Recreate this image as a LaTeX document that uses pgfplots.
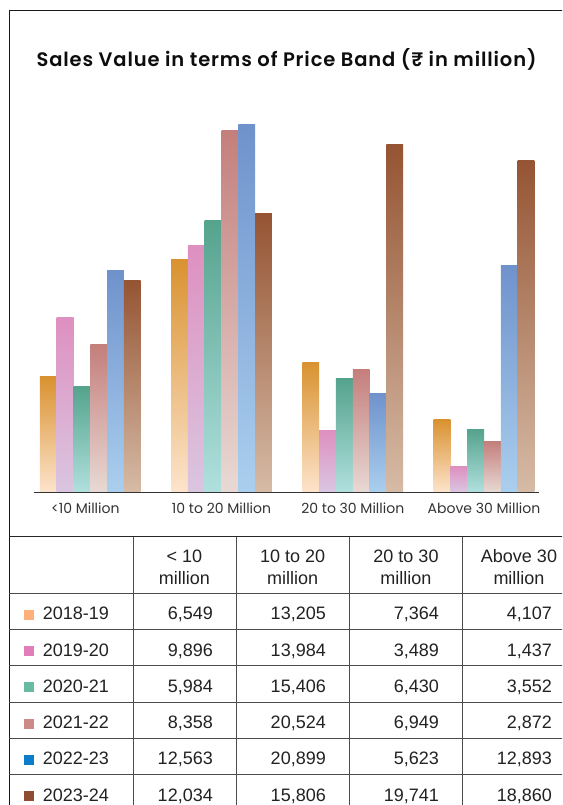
\documentclass[border=0pt]{standalone}
\usepackage{pgfplots}
\pgfplotsset{compat=1.18}
\usepackage{pgfplotstable}
\usepackage{fontspec}
\setmainfont{Liberation Sans}
\newfontfamily\titlefont{Poppins}[LetterSpace=4.5, BoldFont={Poppins SemiBold}]
\newfontfamily\labelfont{Poppins}

% bar gradients: top colour / bottom colour
\definecolor{t1}{HTML}{D99230}\definecolor{b1}{HTML}{FDE4CC}
\definecolor{t2}{HTML}{DE90C0}\definecolor{b2}{HTML}{DAC6E1}
\definecolor{t3}{HTML}{55A38D}\definecolor{b3}{HTML}{B0E0DE}
\definecolor{t4}{HTML}{C47F7C}\definecolor{b4}{HTML}{E8D9D4}
\definecolor{t5}{HTML}{6F92CC}\definecolor{b5}{HTML}{AACFEE}
\definecolor{t6}{HTML}{955433}\definecolor{b6}{HTML}{D6BBA6}
% legend swatches in the table
\definecolor{l1}{HTML}{FDB07A}
\definecolor{l2}{HTML}{E07DBA}
\definecolor{l3}{HTML}{67BBA2}
\definecolor{l4}{HTML}{CD8987}
\definecolor{l5}{HTML}{0A7CC9}
\definecolor{l6}{HTML}{8E4D30}
\definecolor{txt}{HTML}{222222}
\definecolor{ticktxt}{HTML}{333333}

% sales value (Rs million) by price band and year
\pgfplotstableread{
band y1819 y1920 y2021 y2122 y2223 y2324
0    6549  9896  5984  8358  12563 12034
1    13205 13984 15406 20524 20899 15806
2    7364  3489  6430  6949  5623  19741
3    4107  1437  3552  2872  12893 18860
}\salesdata

\newcommand\tablefont{\fontsize{18}{21}\selectfont\color{txt}}

\begin{document}
\begin{tikzpicture}
\useasboundingbox (0,0) rectangle (562pt,805pt);
\clip (0,0) rectangle (562pt,805pt);
\fill[white] (0,0) rectangle (562pt,805pt);

\begin{axis}[
  at={(34pt,313pt)}, anchor=south west,
  scale only axis, width=505pt, height=392pt,
  xmin=-0.429, xmax=3.419, ymin=0, ymax=22273,
  ybar=0pt, bar width=16.8pt,
  axis y line=none, axis x line*=bottom,
  x axis line style={draw=black!80, line width=0.9pt, -},
  xtick={0,1,2,3},
  xticklabels={\hspace*{-10pt}<10 Million, 10 to 20 Million, 20 to 30 Million, Above 30 Million},
  major tick length=0pt, xtick style={draw=none},
  xticklabel style={anchor=base, inner sep=0pt, yshift=-22pt,
    font=\labelfont\fontsize{14}{16}\selectfont, text=ticktxt},
  clip=false,
]
% one bar per (year, band) so that every bar gets its own vertical gradient
\foreach \cname/\ci/\sh in {y1819/1/-42, y1920/2/-25.2, y2021/3/-8.4,
                            y2122/4/8.4, y2223/5/25.2, y2324/6/42} {
  \foreach \b/\bb in {0/1, 1/2, 2/3, 3/4} {
    \edef\barcmd{\noexpand\addplot[draw=none, bar shift=\sh pt,
        top color=t\ci, bottom color=b\ci, forget plot]
      table[x=band, y=\cname,
        skip coords between index={0}{\b},
        skip coords between index={\bb}{4}] {\noexpand\salesdata};}
    \barcmd
  }
}
\end{axis}

% title
\node[anchor=base, inner sep=0pt, text=black!95,
      font=\titlefont\bfseries\fontsize{19.5}{22}\selectfont]
  at (286.5pt,738.3pt) {Sales Value in terms of Price Band (₹ in million)};

% outer frame
\draw[line width=1.2pt, black!90] (9.3pt,0pt) -- (9.3pt,794.3pt) -- (600pt,794.3pt);

% table rules
\draw[line width=1.6pt, black!85] (9.3pt,268.3pt) -- (600pt,268.3pt);
\foreach \hy in {211,175,139,102,66,30}
  \draw[line width=1pt, black!70] (9.3pt,\hy pt) -- (600pt,\hy pt);
\foreach \vx in {133.5,236,349.3,462.7}
  \draw[line width=1pt, black!70] (\vx pt,268.3pt) -- (\vx pt,0pt);

% table header
\foreach \cx/\la/\lb in {184.5/{< 10}/million, 292.7/{10 to 20}/million,
                         406/{20 to 30}/million, 519/{Above 30}/million} {
  \node[anchor=base, inner sep=0pt, font=\tablefont] at (\cx pt,242pt) {\la};
  \node[anchor=base, inner sep=0pt, font=\tablefont] at (\cx pt,220pt) {\lb};
}

% table body: swatch, year, one value per price band
\foreach \yr/\clr/\cname [count=\ri from 0] in
  {2018-19/l1/y1819, 2019-20/l2/y1920, 2020-21/l3/y2021,
   2021-22/l4/y2122, 2022-23/l5/y2223, 2023-24/l6/y2324} {
  \pgfmathsetmacro{\by}{185-36.2*\ri}
  \pgfmathsetmacro{\sy}{\by+10}
  \fill[\clr] (24pt,\by pt) rectangle (34pt,\sy pt);
  \node[anchor=base west, inner sep=0pt, font=\tablefont] at (42.7pt,\by pt) {\yr};
  \foreach \bnd/\xr in {0/213,1/326,2/439,3/552} {
    \pgfplotstablegetelem{\bnd}{\cname}\of\salesdata
    \node[anchor=base east, inner sep=0pt, font=\tablefont] at (\xr pt,\by pt)
      {\pgfmathprintnumber[assume math mode=true, 1000 sep={,}]{\pgfplotsretval}};
  }
}
\end{tikzpicture}
\end{document}
